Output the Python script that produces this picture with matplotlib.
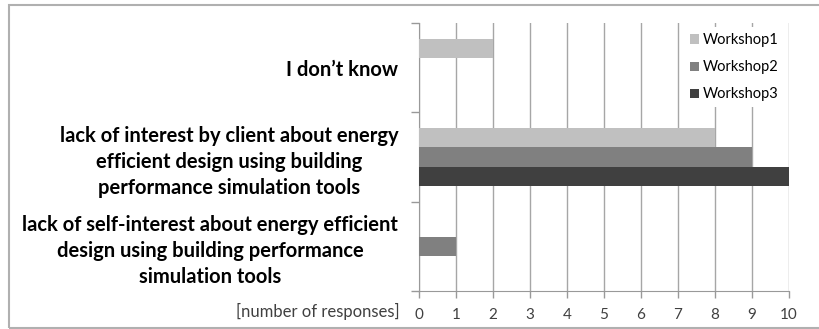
import matplotlib
matplotlib.use("Agg")
import matplotlib.pyplot as plt
from matplotlib.patches import Rectangle
from matplotlib.transforms import ScaledTranslation

categories = [
    "I don\u2019t know",
    "lack of interest by client about energy\nefficient design using building\nperformance simulation tools",
    "lack of self-interest about energy efficient\ndesign using building performance\nsimulation tools",
]
series = ["Workshop1", "Workshop2", "Workshop3"]
workshop1 = [2, 8, 0]
workshop2 = [0, 9, 1]
workshop3 = [0, 10, 0]
colors = ["#c0c0c0", "#808080", "#404040"]

plt.rcParams["font.family"] = ["Lato", "DejaVu Sans"]

fig = plt.figure(figsize=(8.2, 3.29), dpi=100)
ax = fig.add_axes([419 / 820, 1 - 291 / 329, 370 / 820, 268 / 329])

# outer frame around the whole chart (right side runs off the canvas)
fig.patches.append(Rectangle((9 / 820, 1 - 328 / 329), 1.2, 323 / 329,
                             transform=fig.transFigure, fill=False,
                             edgecolor="#b0b0b0", linewidth=1.5))

h = 0.213
for i, (name, vals) in enumerate(zip(series, [workshop1, workshop2, workshop3])):
    ys = [c + (i - 1) * h for c in range(len(categories))]
    ax.barh(ys, vals, height=h, color=colors[i], label=name, zorder=3)

ax.set_ylim(2.5, -0.5)
ax.set_xlim(0, 10)
ax.set_xticks(range(11))
ax.set_yticks(range(len(categories)))
ax.set_yticklabels(categories, fontsize=14.5, fontweight="bold",
                   multialignment="center", linespacing=1.38)
ax.set_yticks([-0.5, 0.5, 1.5, 2.5], minor=True)
ax.tick_params(axis="y", which="major", length=0, pad=15)
ax.tick_params(axis="y", which="minor", length=6, color="#999999", width=1)
ax.tick_params(axis="x", length=5, color="#999999", width=1, labelsize=11,
               labelcolor="#404040", pad=7)

ax.grid(axis="x", color="#a6a6a6", linewidth=1, zorder=0)
for s in ["top", "right"]:
    ax.spines[s].set_visible(False)
for s in ["left", "bottom"]:
    ax.spines[s].set_color("#999999")

ax.text(0, 0, "[number of responses]", fontsize=12, color="#404040",
        ha="right", va="center",
        transform=ax.transAxes + ScaledTranslation(-19 / 100, -20 / 100, fig.dpi_scale_trans))

leg = ax.legend(loc="upper right", bbox_to_anchor=(1.0, 1.0), fontsize=10.5,
                frameon=True, handlelength=0.6, handleheight=0.6,
                handletextpad=0.3, labelspacing=0.9, borderpad=0.4,
                borderaxespad=0.3)
leg.get_frame().set_facecolor("white")
leg.get_frame().set_edgecolor("none")
leg.get_frame().set_alpha(1)
leg.set_zorder(5)

fig.savefig("out.png", dpi=100)
